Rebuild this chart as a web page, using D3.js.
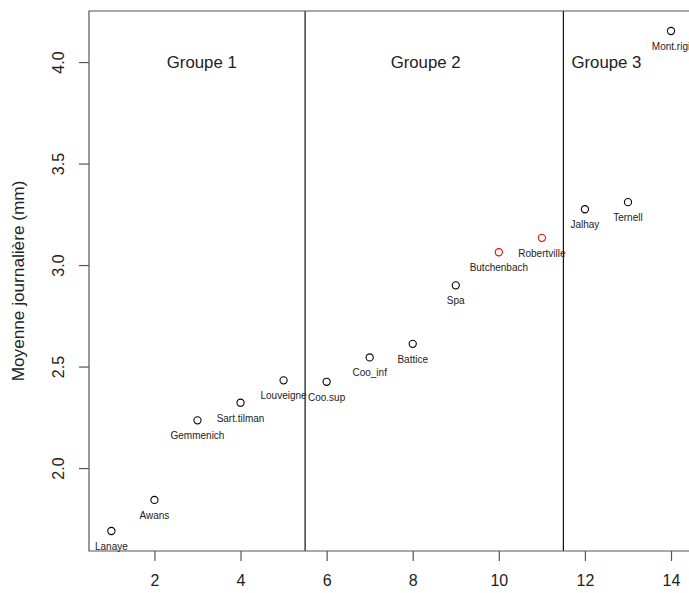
<!DOCTYPE html>
<html>
<head>
<meta charset="utf-8">
<script src="https://cdn.jsdelivr.net/npm/d3@7/dist/d3.min.js"></script>
<style>
  html, body { margin: 0; padding: 0; background: #fff; }
  svg { display: block; font-family: "Liberation Sans", Arial, sans-serif; }
</style>
</head>
<body>
<svg id="chart" width="689" height="593"></svg>
<script>
// Stations ordered by rank, with their mean daily value (mm)
const stations = ["Lanaye", "Awans", "Gemmenich", "Sart.tilman", "Louveigne", "Coo.sup",
  "Coo_inf", "Battice", "Spa", "Butchenbach", "Robertville", "Jalhay", "Ternell", "Mont.rigi"];
const ranks = [1, 2, 3, 4, 5, 6, 7, 8, 9, 10, 11, 12, 13, 14];
const means = [1.690, 1.843, 2.235, 2.322, 2.432, 2.425, 2.545, 2.612, 2.900, 3.063, 3.134, 3.275, 3.310, 4.153];
const highlighted = ["Butchenbach", "Robertville"];

// Group separators and group titles
const separators = [5.5, 11.5];
const groupNames = ["Groupe 1", "Groupe 2", "Groupe 3"];
const groupX = [3.1, 8.3, 12.5];
const groupY = 4.0;

const xTicks = [2, 4, 6, 8, 10, 12, 14];
const yTicks = [2.0, 2.5, 3.0, 3.5, 4.0];
const yTitle = "Moyenne journalière (mm)";

const svg = d3.select("#chart");
const plotLeft = 89, plotTop = 11, plotBottom = 551, plotRight = 693.4;

// Extend the data range by 4% on each side
function padded(vals) {
  const [a, b] = d3.extent(vals);
  const e = (b - a) * 0.04;
  return [a - e, b + e];
}

const x = d3.scaleLinear().domain(padded(ranks)).range([plotLeft, plotRight]);
const y = d3.scaleLinear().domain(padded(means)).range([plotBottom, plotTop]);

const axisColor = "#555";

// Separators between groups
svg.selectAll("line.sep").data(separators).join("line")
  .attr("class", "sep")
  .attr("x1", d => x(d)).attr("x2", d => x(d))
  .attr("y1", plotTop).attr("y2", plotBottom)
  .attr("stroke", "#111").attr("stroke-width", 1.2);

// Frame
svg.append("path")
  .attr("d", `M${plotRight},${plotTop}H${plotLeft}V${plotBottom}H${plotRight}`)
  .attr("fill", "none").attr("stroke", axisColor).attr("stroke-width", 1.2);

// Axes
const xAxis = svg.append("g").attr("transform", `translate(0,${plotBottom})`)
  .call(d3.axisBottom(x).tickValues(xTicks).tickSize(10).tickPadding(14).tickFormat(d3.format("d")));
const yAxis = svg.append("g").attr("transform", `translate(${plotLeft},0)`)
  .call(d3.axisLeft(y).tickValues(yTicks).tickSize(10).tickFormat(d3.format(".1f")));

[xAxis, yAxis].forEach(g => {
  g.select(".domain").remove();
  g.selectAll(".tick line").attr("stroke", axisColor).attr("stroke-width", 1.2);
  g.selectAll(".tick text").attr("fill", "#222").attr("font-size", 16)
    .attr("font-family", "'Liberation Sans', Arial, sans-serif");
});
xAxis.selectAll(".tick text").attr("dy", "0.71em");
yAxis.selectAll(".tick text")
  .attr("x", null)
  .attr("text-anchor", "middle")
  .attr("transform", "translate(-31,0) rotate(-90)")
  .attr("dy", "0.35em");

// Axis title
svg.append("text")
  .attr("transform", `translate(18,${(plotTop + plotBottom) / 2}) rotate(-90)`)
  .attr("text-anchor", "middle").attr("dy", "0.35em")
  .attr("font-size", 17.2).attr("fill", "#222")
  .text(yTitle);

// Group titles
svg.selectAll("text.group").data(groupNames).join("text")
  .attr("class", "group")
  .attr("x", (d, i) => x(groupX[i]))
  .attr("y", y(groupY))
  .attr("dy", "0.35em")
  .attr("text-anchor", "middle")
  .attr("font-size", 16.8).attr("fill", "#222")
  .text(d => d);

const pts = stations.map((s, i) => ({ name: s, r: ranks[i], v: means[i] }));

// Points
svg.selectAll("circle.pt").data(pts).join("circle")
  .attr("class", "pt")
  .attr("cx", d => x(d.r)).attr("cy", d => y(d.v))
  .attr("r", 3.6)
  .attr("fill", "none")
  .attr("stroke", d => highlighted.includes(d.name) ? "#ff0000" : "#000")
  .attr("stroke-width", 1.1);

// Station names under each point
svg.selectAll("text.lbl").data(pts).join("text")
  .attr("class", "lbl")
  .attr("x", d => x(d.r)).attr("y", d => y(d.v) + 19)
  .attr("text-anchor", "middle")
  .attr("font-size", 10).attr("fill", "#222")
  .text(d => d.name);
</script>
</body>
</html>
